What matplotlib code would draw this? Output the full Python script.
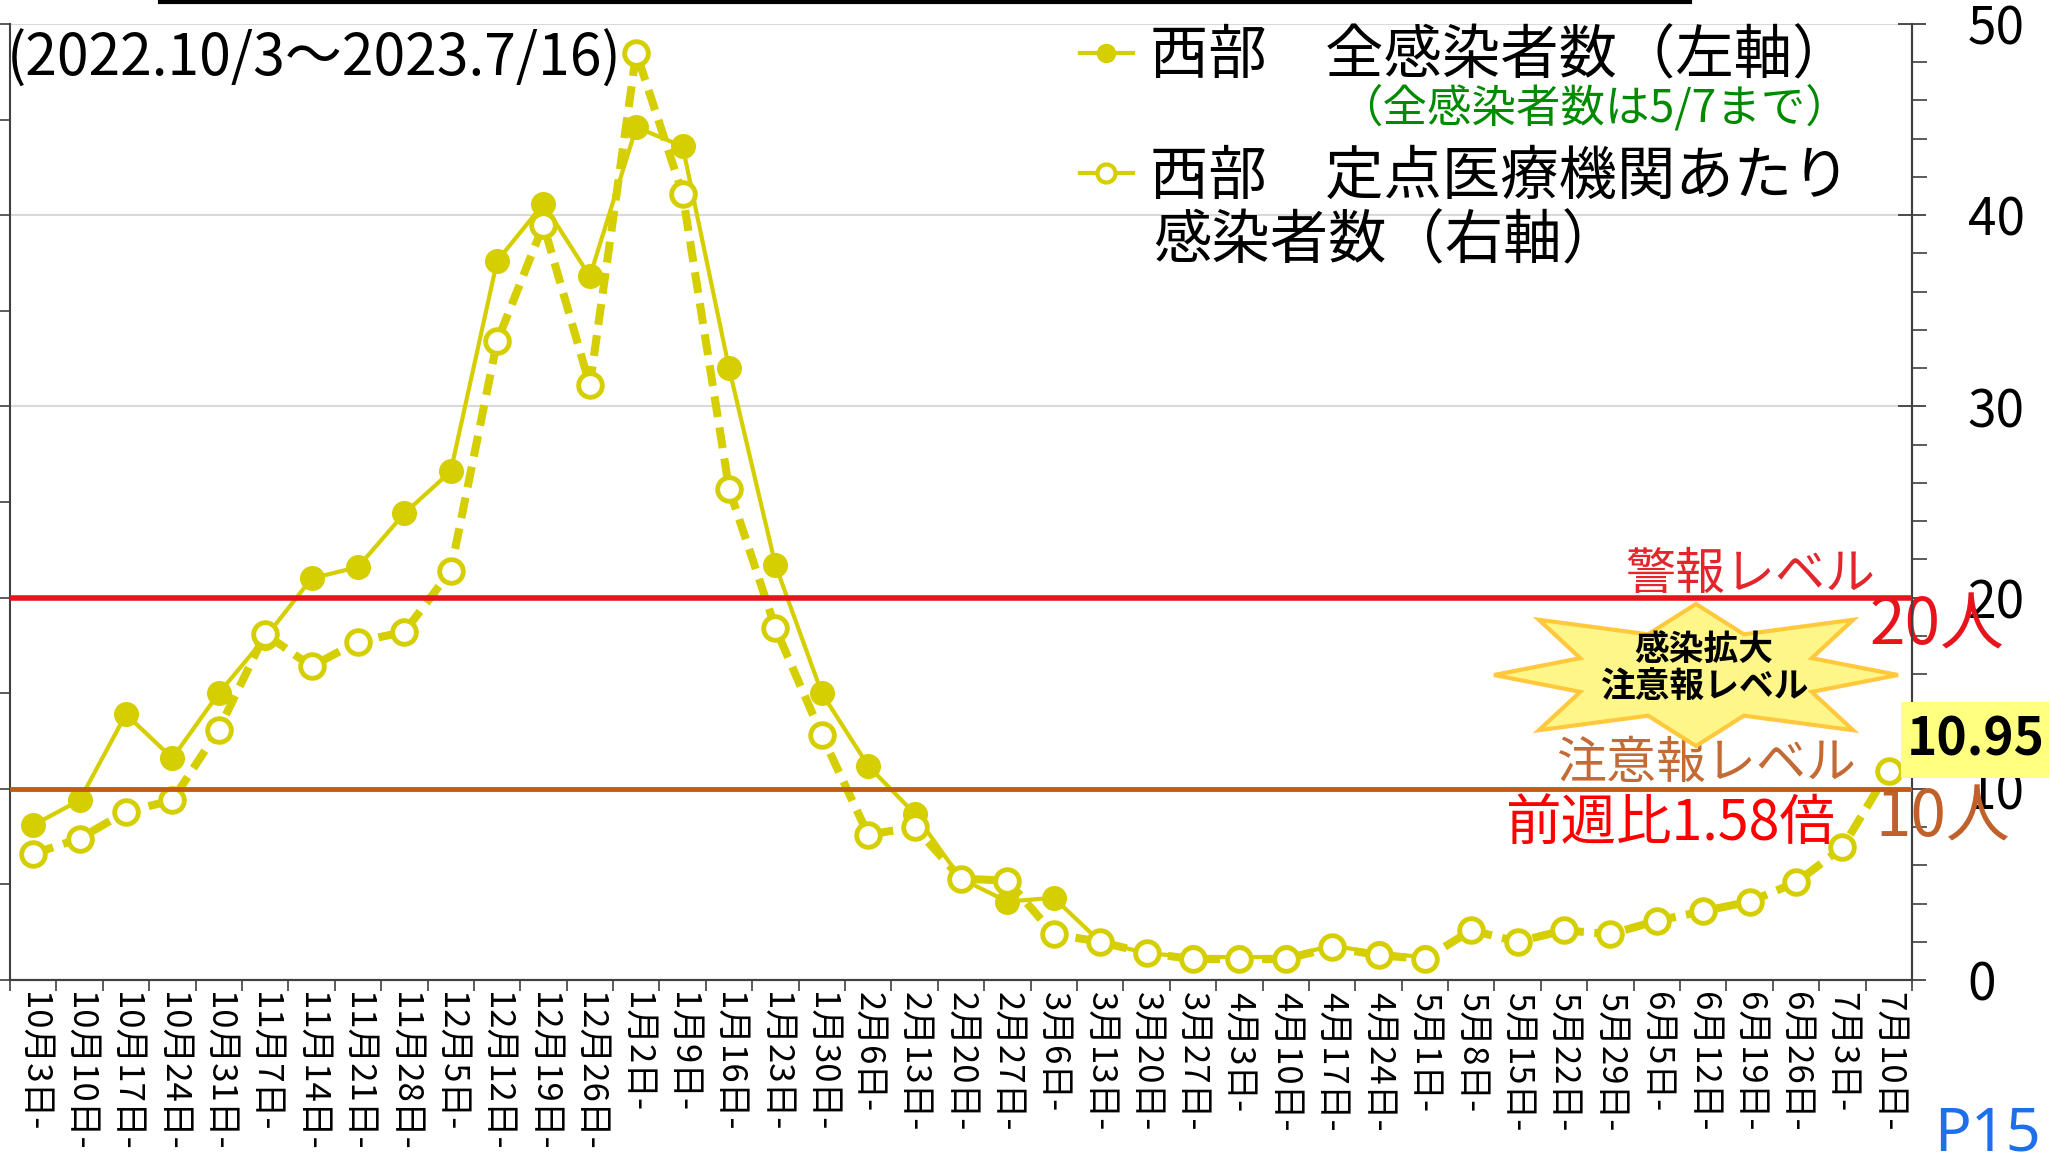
import numpy as np
import matplotlib.pyplot as plt
from matplotlib.patches import Polygon, Rectangle
from matplotlib.lines import Line2D
from matplotlib.ticker import MultipleLocator

plt.rcParams['font.family'] = ['Noto Sans CJK JP', 'DejaVu Sans']
JP = ['Noto Sans CJK JP', 'DejaVu Sans']
NARROW = ['Liberation Sans Narrow', 'Noto Sans CJK JP']

# 週（月曜日）
weeks = ['10月3日-', '10月10日-', '10月17日-', '10月24日-', '10月31日-',
         '11月7日-', '11月14日-', '11月21日-', '11月28日-',
         '12月5日-', '12月12日-', '12月19日-', '12月26日-',
         '1月2日-', '1月9日-', '1月16日-', '1月23日-', '1月30日-',
         '2月6日-', '2月13日-', '2月20日-', '2月27日-',
         '3月6日-', '3月13日-', '3月20日-', '3月27日-',
         '4月3日-', '4月10日-', '4月17日-', '4月24日-',
         '5月1日-', '5月8日-', '5月15日-', '5月22日-', '5月29日-',
         '6月5日-', '6月12日-', '6月19日-', '6月26日-',
         '7月3日-', '7月10日-']

# 西部 全感染者数（左軸, 5/7まで）
all_cases = [810, 940, 1390, 1160, 1500, 1790, 2100, 2160, 2440, 2660,
             3760, 4060, 3680, 4460, 4360, 3200, 2170, 1500, 1120, 870,
             530, 410, 430, 200, 140, 120, 120, 120, 180, 140, 120]

# 西部 定点医療機関あたり感染者数（右軸）
sentinel = [6.6, 7.4, 8.8, 9.4, 13.1, 18.1, 16.4, 17.7, 18.2, 21.4,
            33.4, 39.5, 31.1, 48.5, 41.1, 25.7, 18.4, 12.8, 7.6, 8.0,
            5.3, 5.2, 2.4, 2.0, 1.4, 1.1, 1.1, 1.1, 1.7, 1.3,
            1.1, 2.6, 2.0, 2.6, 2.4, 3.1, 3.6, 4.1, 5.1, 6.93, 10.95]

alert_level = 20   # 警報レベル
warn_level = 10    # 注意報レベル
latest = '10.95'
ratio = '前週比1.58倍'

W, H = 2049, 1169
YEL = '#D5CE00'


def px(x, y):
    return x / W, 1 - y / H


fig = plt.figure(figsize=(W / 100, H / 100), dpi=100)
ax = fig.add_axes([10 / W, (H - 980) / H, (1912 - 10) / W, (980 - 24) / H])
ax2 = ax.twinx()

x = np.arange(len(weeks))
ax.plot(x[:len(all_cases)], all_cases, color=YEL, lw=3, marker='o', ms=17,
        mfc=YEL, mec=YEL)
ax2.plot(x, sentinel, color=YEL, lw=5.8, ls=(0, (2.6, 1.3)), marker='o', ms=17,
         mfc='white', mec=YEL, mew=3.5)

ax2.axhline(alert_level, color='#E8141B', lw=4, zorder=5)
ax2.axhline(warn_level, color='#C55A11', lw=3.5, zorder=5)

ax.set_xlim(-0.5, len(weeks) - 0.5)
ax.set_ylim(0, 5000)
ax2.set_ylim(0, 50)

ax.set_xticks(x)
ax.set_xticklabels(weeks, rotation=-90, fontsize=25, va='top', ha='center')
ax.set_xticks(np.arange(-0.5, len(weeks), 1), minor=True)
ax.tick_params(axis='x', which='major', length=0, pad=9)
ax.tick_params(axis='x', which='minor', length=8, width=1.2, color='#404040')

ax.yaxis.set_major_locator(MultipleLocator(1000))
ax.yaxis.set_minor_locator(MultipleLocator(500))
ax.tick_params(axis='y', which='both', length=8, width=1.2, direction='out',
               labelleft=False, color='#404040')
ax.grid(axis='y', which='major', color='#D9D9D9', lw=1.5)

ax2.set_yticks([0, 10, 20, 30, 40, 50])
ax2.yaxis.set_minor_locator(MultipleLocator(2))
ax2.tick_params(axis='y', which='major', length=20, width=1.3, direction='inout',
                pad=30, labelsize=37, color='#404040', labelfontfamily=NARROW)
ax2.tick_params(axis='y', which='minor', length=11, width=1.2, direction='out',
                color='#404040')

for a in (ax, ax2):
    a.spines['top'].set_visible(False)
    for s in a.spines.values():
        s.set_color('#404040')
        s.set_linewidth(1.5)
ax2.spines['left'].set_visible(False)

# 凡例
handles = [Line2D([], [], color=YEL, lw=3, marker='o', ms=13),
           Line2D([], [], color=YEL, lw=3, marker='o', ms=13, mfc='white', mew=3)]
fig.legend(handles, ['西部　全感染者数（左軸）', '西部　定点医療機関あたり'],
           loc='upper left', bbox_to_anchor=px(1080, 26), frameon=False,
           prop={'family': JP, 'size': 42}, handlelength=0.9, handletextpad=0.3,
           labelspacing=1.02, borderpad=0, borderaxespad=0)
fig.text(*px(1153, 242), '感染者数（右軸）', fontsize=42, va='center', ha='left')
fig.text(*px(1850, 108), '（全感染者数は5/7まで）', fontsize=32, va='center',
         ha='right', color='#008A00', family=NARROW)

fig.text(*px(7, 59), '(2022.10/3～2023.7/16)', fontsize=41, va='center',
         ha='left', family=NARROW)

# レベル表示
fig.text(*px(1875, 575), '警報レベル', fontsize=36, color='#E3262B', ha='right', va='center')
ax2.text(*px(1869, 626), '20人', transform=fig.transFigure, fontsize=46,
         color='#E8141B', ha='left', va='center', zorder=2)
fig.text(*px(1856, 764), '注意報レベル', fontsize=36, color='#C46A35', ha='right', va='center')
ax2.text(*px(1875, 818), '10人', transform=fig.transFigure, fontsize=46,
         color='#C0602A', ha='left', va='center', zorder=2)
fig.text(*px(1505, 824), ratio, fontsize=40, color='#FF0000', ha='left',
         va='center', family=NARROW, zorder=6)

# 最新値（黄色背景）
fig.add_artist(Rectangle(px(1901, 778), 148 / W, 76 / H, transform=fig.transFigure,
                         facecolor='#FFFF80', edgecolor='none', zorder=6))
fig.text(*px(1976, 740), latest, fontsize=37, fontweight='bold', ha='center',
         va='center', family=NARROW, zorder=7)

# 感染拡大注意報レベル（爆発形）
cx, cy, rx, ry = 1696, 675, 202, 71
pts = []
for k in range(16):
    ang = np.pi * k / 8
    r = 0.62 if k % 2 else (1.1 if k % 4 == 2 else 1.0)
    pts.append(px(cx + r * rx * np.cos(ang), cy - r * ry * np.sin(ang)))
fig.add_artist(Polygon(pts, closed=True, transform=fig.transFigure,
                       facecolor='#FFF68A', edgecolor='#FFC83D', lw=3, zorder=4))
fig.text(*px(1704, 668), '感染拡大\n注意報レベル', fontsize=25, fontweight='bold',
         ha='center', va='center', linespacing=1.1, zorder=5)

fig.text(*px(1987, 1135), 'P15', fontsize=44, color='#1E6FEB', ha='center',
         va='center', family=['Noto Sans', 'DejaVu Sans'])

fig.add_artist(Line2D([160 / W, 1690 / W], [1 - 1.5 / H, 1 - 1.5 / H],
                      transform=fig.transFigure, color='black', lw=3))

fig.savefig('out.png', dpi=100)
